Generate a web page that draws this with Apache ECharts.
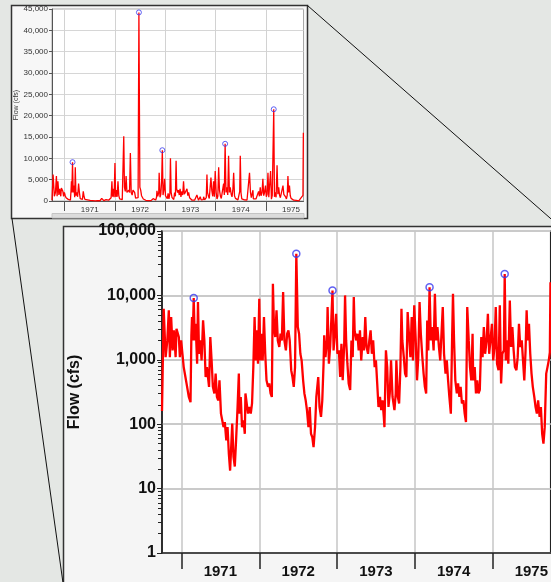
<!DOCTYPE html>
<html>
<head>
<meta charset="utf-8">
<title>Daily flow, water years 1971-1975</title>
<script src="https://cdn.jsdelivr.net/npm/echarts@6/dist/echarts.min.js"></script>
<style>
  html, body { margin: 0; padding: 0; background: #e4e7e4; }
  #chart { width: 551px; height: 582px; }
</style>
</head>
<body>
<div id="chart"></div>
<script>
// Days are counted from the start of the record, 1 Oct 1970.
const RECORD_START = Date.UTC(1970, 9, 1);
const dayOf = (y, m, d) => Math.round((Date.UTC(y, m, d) - RECORD_START) / 864e5);

const years = [1971, 1972, 1973, 1974, 1975];
const yearStartDays = years.map(y => dayOf(y, 0, 1));
const yearLabelDays = years.map(y => dayOf(y, 6, 2));
const recordEnd = dayOf(1975, 9, 1);

// Daily flow, [day of record, cfs], one array per water year
const wy1971 = [[0,160],[3,170],[8,6200],[17,1100],[25,2000],[32,5850],[37,1100],[43,4600],[50,1400],[56,2870],[64,1100],[68,3040],[79,2260],[84,1100],[90,2000],[96,1240],[102,770],[110,540],[118,380],[126,265],[134,220],[138,2400],[141,4600],[144,2000],[149,9100],[154,2000],[158,3630],[165,870],[169,7880],[174,1240],[180,2000],[186,980],[193,4090],[199,2000],[205,540],[211,770],[221,380],[227,2260],[233,980],[239,380],[246,300],[252,610],[258,265],[264,235],[270,480],[277,146],[283,115],[289,90],[295,108],[302,56],[308,90],[314,35],[320,19],[325,44],[330,102],[336,31],[342,22],[348,56],[355,185],[361,610],[364,146]];
const wy1972 = [[370,265],[376,90],[383,115],[389,71],[392,300],[398,300],[404,146],[411,185],[417,146],[423,210],[429,770],[435,4600],[440,980],[445,2870],[451,870],[457,8880],[462,980],[467,2540],[473,980],[479,4600],[485,1240],[491,480],[498,380],[504,430],[510,300],[516,265],[521,15200],[526,3230],[532,2260],[538,5850],[544,2000],[551,1580],[557,2540],[563,2000],[569,11270],[575,2000],[582,1400],[588,2540],[594,2870],[600,2000],[607,690],[613,540],[619,380],[625,770],[631,44200],[638,3230],[644,2540],[650,1240],[656,980],[663,480],[669,300],[675,235],[681,165],[688,90],[694,185],[700,71],[706,63],[712,44],[719,90],[725,265]];
const wy1973 = [[734,540],[740,185],[747,130],[753,235],[759,870],[762,2400],[768,1100],[775,2000],[778,6590],[784,870],[790,1580],[796,4610],[801,11900],[806,1400],[812,2540],[818,5190],[824,1240],[831,1400],[837,540],[843,1780],[849,480],[856,1780],[860,10000],[865,2000],[871,870],[877,430],[884,340],[890,2000],[896,1100],[901,9420],[905,2870],[912,2000],[918,2540],[924,1400],[930,2870],[936,980],[943,2260],[949,1400],[955,4610],[961,1580],[968,1240],[974,2000],[980,2870],[986,1240],[992,2000],[999,770],[1005,980],[1011,430],[1017,185],[1024,265],[1030,165],[1036,235],[1042,130],[1045,90],[1052,1400],[1058,770],[1064,185],[1070,300],[1076,980],[1083,265],[1092,165]];
const wy1974 = [[1098,300],[1101,980],[1108,265],[1114,210],[1120,770],[1125,6210],[1129,2000],[1136,1100],[1142,610],[1148,540],[1154,5510],[1160,2540],[1167,1100],[1173,4610],[1179,980],[1185,7000],[1192,2000],[1198,480],[1204,1100],[1210,7880],[1216,2540],[1223,1100],[1229,610],[1235,380],[1241,300],[1246,4090],[1251,1400],[1257,13400],[1263,2000],[1269,3230],[1276,1400],[1282,10600],[1288,2000],[1294,3230],[1301,1580],[1307,980],[1313,2540],[1319,6590],[1325,1240],[1332,610],[1338,980],[1344,480],[1350,265],[1357,146],[1363,2260],[1367,10600],[1372,2000],[1378,480],[1385,300],[1391,430],[1397,265],[1403,380],[1409,210],[1416,235],[1422,146],[1428,108],[1434,6590],[1441,2000],[1447,770],[1453,480],[1459,2540]];
const wy1975 = [[1462,480],[1469,770],[1475,300],[1481,480],[1487,300],[1493,340],[1500,2260],[1506,1100],[1512,3230],[1518,1240],[1525,2000],[1531,5190],[1537,1240],[1543,2000],[1550,3630],[1556,980],[1562,1580],[1568,6590],[1574,870],[1581,690],[1587,7000],[1593,430],[1599,1240],[1606,1400],[1610,21500],[1615,980],[1621,2000],[1627,870],[1634,8360],[1640,1580],[1646,3230],[1652,1400],[1658,770],[1665,690],[1671,1100],[1677,3630],[1683,1580],[1690,2000],[1696,980],[1702,480],[1708,1400],[1713,5850],[1718,2000],[1724,3630],[1730,1240],[1736,610],[1742,380],[1749,265],[1755,185],[1761,146],[1767,235],[1774,130],[1780,185],[1786,71],[1792,50],[1798,90],[1805,610],[1811,770],[1817,980],[1822,1300],[1825,16000]];

// Annual peak flows, one per water year
const annualPeaks = [[149,9100],[631,44200],[801,11900],[1257,13400],[1610,21500]];

const flow = [].concat(wy1971, wy1972, wy1973, wy1974, wy1975);

// Log-axis minor tick positions (2..9 within each decade)
const logMinorTicks = [];
for (let dec = 1; dec < 100000; dec *= 10) {
  for (let k = 2; k <= 9; k++) logMinorTicks.push(dec * k);
}

const FONT = '"Liberation Sans", Arial, sans-serif';
const withCommas = v => Number(v).toLocaleString('en-US');
const yearLabel = v => {
  const i = yearLabelDays.indexOf(v);
  return i >= 0 ? String(years[i]) : '';
};

const chart = echarts.init(document.getElementById('chart'), null, { renderer: 'canvas' });

chart.setOption({
  backgroundColor: '#e4e7e4',
  animation: false,
  textStyle: { fontFamily: FONT },
  graphic: [
    // overview panel
    { type: 'rect', z: -10, shape: { x: 11.5, y: 5.5, width: 296, height: 213 },
      style: { fill: '#f7f7f7', stroke: '#333', lineWidth: 1.5 } },
    { type: 'rect', z: -9, shape: { x: 52, y: 213.5, width: 252, height: 4.5 },
      style: { fill: '#dcdcdc', stroke: '#c4c4c4', lineWidth: 1 } },
    // detail panel
    { type: 'rect', z: -10, shape: { x: 63.5, y: 226.5, width: 520, height: 380 },
      style: { fill: '#f5f5f5', stroke: '#333', lineWidth: 1.5 } },
    // connector lines between the two panels
    { type: 'line', z: 50, shape: { x1: 307.5, y1: 5.5, x2: 562, y2: 228.5 },
      style: { stroke: '#111', lineWidth: 1 } },
    { type: 'line', z: 50, shape: { x1: 12, y1: 218.5, x2: 64, y2: 590 },
      style: { stroke: '#111', lineWidth: 1 } }
  ],
  grid: [
    { left: 52, top: 9, width: 251.5, height: 192, show: true,
      backgroundColor: '#fff', borderColor: '#a8a8a8', borderWidth: 1 },
    { left: 162, top: 231, width: 391.5, height: 322, show: true,
      backgroundColor: '#fff', borderColor: '#222', borderWidth: 1.5 }
  ],
  xAxis: [
    { gridIndex: 0, type: 'value', min: 0, max: recordEnd,
      axisLine: { show: true, lineStyle: { color: '#555', width: 1 } },
      axisTick: { show: true, inside: false, length: 10, customValues: yearStartDays,
        lineStyle: { color: '#555', width: 1 } },
      axisLabel: { customValues: yearLabelDays, formatter: yearLabel,
        fontSize: 8, color: '#333', margin: 5, fontFamily: FONT },
      splitLine: { show: true, lineStyle: { color: '#d2d2d2', width: 1 } } },
    { gridIndex: 1, type: 'value', min: 0, max: recordEnd,
      axisLine: { show: true, lineStyle: { color: '#222', width: 1.5 } },
      axisTick: { show: true, inside: false, length: 16, customValues: yearStartDays,
        lineStyle: { color: '#222', width: 1.5 } },
      axisLabel: { customValues: yearLabelDays, formatter: yearLabel,
        fontSize: 15, fontWeight: 'bold', color: '#111', margin: 11, fontFamily: FONT },
      splitLine: { show: true, lineStyle: { color: '#c6c6c6', width: 1.5 } } }
  ],
  yAxis: [
    { gridIndex: 0, type: 'value', min: 0, max: 45000, interval: 5000,
      name: 'Flow (cfs)', nameLocation: 'middle', nameGap: 28,
      nameTextStyle: { fontSize: 7, color: '#333', fontFamily: FONT },
      axisLine: { show: true, lineStyle: { color: '#555', width: 1 } },
      axisTick: { show: true, length: 3, lineStyle: { color: '#555' } },
      axisLabel: { fontSize: 8, color: '#333', margin: 4, formatter: withCommas, fontFamily: FONT },
      splitLine: { show: true, lineStyle: { color: '#d6d6d6', width: 1 } } },
    { gridIndex: 1, type: 'log', logBase: 10, min: 1, max: 100000, position: 'left',
      name: 'Flow (cfs)', nameLocation: 'middle', nameGap: 79,
      nameTextStyle: { fontSize: 16, fontWeight: 'bold', color: '#111', fontFamily: FONT },
      axisLine: { show: true, lineStyle: { color: '#222', width: 1.5 } },
      axisTick: { show: true, length: 5, lineStyle: { color: '#222', width: 1 } },
      axisLabel: { fontSize: 16, fontWeight: 'bold', color: '#111', margin: 6,
        formatter: withCommas, fontFamily: FONT },
      splitLine: { show: true, lineStyle: { color: '#cacaca', width: 2 } } },
    { gridIndex: 1, type: 'log', logBase: 10, min: 1, max: 100000, position: 'left',
      axisLine: { show: false },
      axisTick: { show: true, length: 4, customValues: logMinorTicks,
        lineStyle: { color: '#222', width: 1 } },
      axisLabel: { show: false },
      splitLine: { show: false } }
  ],
  series: [
    { type: 'line', xAxisIndex: 0, yAxisIndex: 0, data: flow, showSymbol: false,
      lineStyle: { color: '#ff0000', width: 1.3 }, z: 3 },
    { type: 'scatter', xAxisIndex: 0, yAxisIndex: 0, data: annualPeaks,
      symbol: 'circle', symbolSize: 5,
      itemStyle: { color: 'rgba(255,255,255,0)', borderColor: '#3a3af0', borderWidth: 1 }, z: 4 },
    { type: 'line', xAxisIndex: 1, yAxisIndex: 1, data: flow, showSymbol: false,
      lineStyle: { color: '#ff0000', width: 2.3 }, z: 3 },
    { type: 'scatter', xAxisIndex: 1, yAxisIndex: 1, data: annualPeaks,
      symbol: 'circle', symbolSize: 7,
      itemStyle: { color: 'rgba(255,255,255,0)', borderColor: '#3a3af0', borderWidth: 1.5 }, z: 4 }
  ]
});
</script>
</body>
</html>
